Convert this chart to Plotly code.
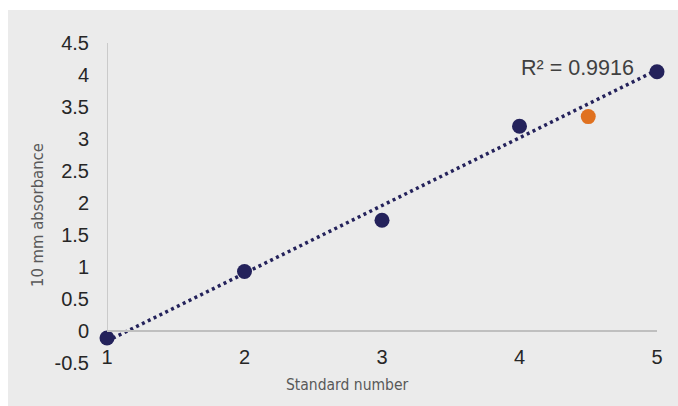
import numpy as np
import plotly.graph_objects as go

# Data
standard_number = [1, 2, 3, 4, 5]
absorbance = [-0.11, 0.93, 1.73, 3.2, 4.05]
sample_x = [4.5]
sample_y = [3.35]
r2_label = "R² = 0.9916"
y_tickvals = [-0.5, 0, 0.5, 1, 1.5, 2, 2.5, 3, 3.5, 4, 4.5]
y_ticktext = ["-0.5", "0", "0.5", "1", "1.5", "2", "2.5", "3", "3.5", "4", "4.5"]
x_tickvals = [1, 2, 3, 4, 5]
x_ticktext = ["1", "2", "3", "4", "5"]

NAVY = "#24225b"
ORANGE = "#e0711f"
AXIS_GRAY = "#bfbfbf"
TICK_FONT = dict(family="Liberation Sans, Arial, sans-serif", size=20, color="#262626")
NARROW = "Liberation Sans Narrow, Arial Narrow, DejaVu Sans Condensed, sans-serif"

# Linear trendline fitted to the standards
slope, intercept = np.polyfit(standard_number, absorbance, 1)
trend_x = [min(standard_number), max(standard_number)]
trend_y = [slope * x + intercept for x in trend_x]

fig = go.Figure()
fig.add_trace(go.Scatter(x=trend_x, y=trend_y, mode="lines",
                         line=dict(color=NAVY, width=3.5, dash="3px,3.5px"),
                         hoverinfo="skip", showlegend=False, cliponaxis=False))
fig.add_trace(go.Scatter(x=standard_number, y=absorbance, mode="markers",
                         marker=dict(color=NAVY, size=15), showlegend=False, cliponaxis=False))
fig.add_trace(go.Scatter(x=sample_x, y=sample_y, mode="markers",
                         marker=dict(color=ORANGE, size=15), showlegend=False, cliponaxis=False))

W, H = 678, 406
L, R, T, B = 107, W - 657, 43, H - 363
pw, ph = W - L - R, H - T - B

def px_x(p):
    return (p - L) / pw

def px_y(p):
    return (H - B - p) / ph

y_min, y_max = min(y_tickvals), max(y_tickvals)
zero_pos = (0 - y_min) / (y_max - y_min)

fig.update_layout(
    width=W, height=H,
    margin=dict(l=L, r=R, t=T, b=B),
    paper_bgcolor="#ebebeb",
    plot_bgcolor="rgba(0,0,0,0)",
    showlegend=False,
    xaxis=dict(range=[min(x_tickvals), max(x_tickvals)], tickvals=x_tickvals, ticktext=x_ticktext,
               showgrid=False, zeroline=False, showline=True, linecolor=AXIS_GRAY, linewidth=1.5,
               ticks="", tickfont=TICK_FONT, anchor="free", position=zero_pos,
               ticklabelstandoff=8),
    yaxis=dict(range=[y_min, y_max], tickvals=y_tickvals, ticktext=y_ticktext,
               showgrid=False, zeroline=False, showline=False, ticks="",
               tickfont=TICK_FONT, ticklabelstandoff=17),
    shapes=[
        dict(type="rect", xref="paper", yref="paper", layer="below",
             x0=px_x(-5), x1=px_x(W + 5), y0=px_y(10), y1=px_y(-5),
             fillcolor="white", line=dict(width=0)),
        dict(type="rect", xref="paper", yref="paper", layer="below",
             x0=px_x(-5), x1=px_x(8), y0=px_y(H + 5), y1=px_y(-5),
             fillcolor="white", line=dict(width=0)),
        dict(type="line", xref="x", yref="y", x0=min(x_tickvals), x1=min(x_tickvals),
             y0=0, y1=y_max, line=dict(color=AXIS_GRAY, width=1.5)),
    ],
    annotations=[
        dict(text=r2_label, xref="paper", yref="paper", x=px_x(636), y=px_y(68),
             xanchor="right", yanchor="middle", showarrow=False,
             font=dict(family="Liberation Sans, Arial, sans-serif", size=21.5, color="#404040")),
        dict(text="Standard number", xref="paper", yref="paper", x=px_x(347), y=px_y(385),
             xanchor="center", yanchor="middle", showarrow=False,
             font=dict(family=NARROW, size=15.5, color="#595959")),
        dict(text="10 mm absorbance", xref="paper", yref="paper", x=px_x(37), y=px_y(215),
             xanchor="center", yanchor="middle", textangle=-90, showarrow=False,
             font=dict(family=NARROW, size=16.5, color="#595959")),
    ],
)

fig.write_html("out.html", config={"displayModeBar": False},
               post_script="document.body.style.margin='0';")
